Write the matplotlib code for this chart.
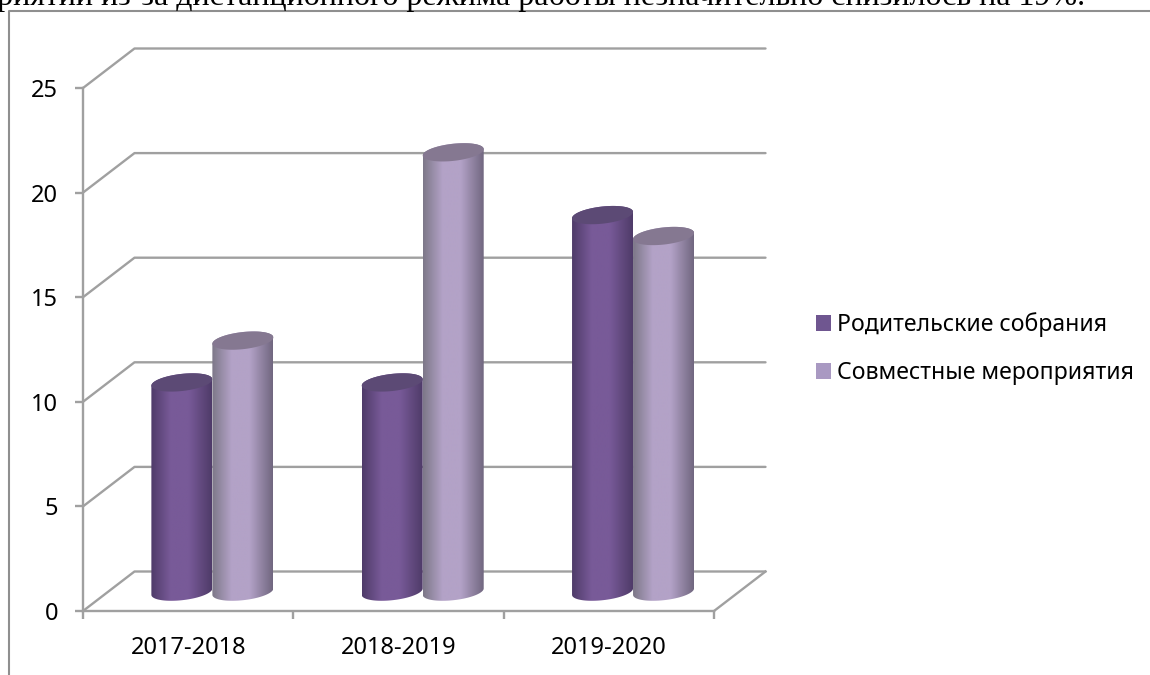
import numpy as np
import matplotlib
matplotlib.use("Agg")
import matplotlib.pyplot as plt
from matplotlib.colors import LinearSegmentedColormap
from matplotlib.lines import Line2D
from matplotlib.patches import Patch, Polygon

categories = ["2017-2018", "2018-2019", "2019-2020"]
series_names = ["Родительские собрания", "Совместные мероприятия"]
parent_meetings = [10, 10, 18]
joint_events = [12, 21, 17]
y_ticks = [0, 5, 10, 15, 20, 25]
caption = "приятий из-за дистанционного режима работы незначительно снизилось на 19%."

W, H = 1150, 675
FONT = "Noto Sans"
GRID = "#a0a0a0"
FS = 17.0

fig = plt.figure(figsize=(W / 100, H / 100), dpi=100, facecolor="white")
L, R, T, B = 83, 714, 88, 611
ax = fig.add_axes([L / W, 1 - B / H, (R - L) / W, (B - T) / H])
ax.set_xlim(0, len(categories))
ax.set_ylim(0, 25)
ax.patch.set_visible(False)

# depth of the pseudo-3D box in data units
DX = 51.5 / ((R - L) / len(categories))
DY = 39.5 / ((B - T) / 25)
LW = 1.7

# walls
for v in y_ticks:
    ax.plot([0, DX, len(categories) + DX], [v, v + DY, v + DY], color=GRID, lw=LW,
            clip_on=False, zorder=1, solid_capstyle="round")
ax.plot([len(categories), len(categories) + DX], [0, DY], color=GRID, lw=LW, clip_on=False, zorder=1)

for s in ("top", "right"):
    ax.spines[s].set_visible(False)
for s in ("left", "bottom"):
    ax.spines[s].set_color(GRID)
    ax.spines[s].set_linewidth(LW)
    ax.spines[s].set_zorder(1)

ax.set_yticks(y_ticks)
ax.set_xticks(range(len(categories) + 1))
ax.set_xticklabels([])
ax.set_xticks([i + 0.5 for i in range(len(categories))], minor=True)
ax.set_xticklabels(categories, minor=True, fontsize=FS, family=FONT, color="black")
ax.tick_params(axis="x", which="major", length=6, width=LW, color=GRID)
ax.tick_params(axis="x", which="minor", length=0, pad=18)
ax.tick_params(axis="y", length=6, width=LW, color=GRID, pad=12, labelsize=FS)
for t in ax.get_yticklabels():
    t.set_family(FONT)

BAR_W = 0.29
SEMI_H = 0.41
SHEAR = 1.05


def ellipse_pts(cx, cy, t):
    a = BAR_W / 2
    c, s = np.cos(t), np.sin(t)
    return np.column_stack([cx + a * c, cy + SEMI_H * s + SHEAR * a * c])


def cylinder(x_left, value, edge_l, mid, edge_r, top, z):
    cx = x_left + BAR_W / 2 + DX * 0.47
    base = DY * 0.49
    cmap = LinearSegmentedColormap.from_list(
        "c", [(0, edge_l), (0.32, mid), (0.62, mid), (1, edge_r)])
    im = ax.imshow(np.linspace(0, 1, 128).reshape(1, -1), cmap=cmap, aspect="auto",
                   extent=(cx - BAR_W / 2, cx + BAR_W / 2, base - 1, base + value + 1),
                   zorder=z, interpolation="bilinear")
    lower = ellipse_pts(cx, base, np.linspace(np.pi, 2 * np.pi, 50))
    upper = ellipse_pts(cx, base + value, np.linspace(0, np.pi, 50))
    clip = Polygon(np.vstack([lower, upper]), closed=True, transform=ax.transData,
                   fc="none", ec="none")
    ax.add_patch(clip)
    im.set_clip_path(clip)
    im.set_clip_on(True)
    ax.add_patch(Polygon(ellipse_pts(cx, base + value, np.linspace(0, 2 * np.pi, 100)),
                         closed=True, fc=top, ec="none", zorder=z + 0.1, clip_on=False))


for i in range(len(categories)):
    start = i + 0.5 - BAR_W
    cylinder(start, parent_meetings[i], "#4f3b69", "#785a98", "#4f3b69", "#5c4a75", 3 + i)
    cylinder(start + BAR_W, joint_events[i], "#7d7888", "#b3a2c7", "#716780", "#857891", 3.5 + i)

ax.set_xlim(0, len(categories))
ax.set_ylim(0, 25)

# legend
handles = [Patch(fc="#6f5690", ec="none"), Patch(fc="#a999c2", ec="none")]
leg = fig.legend(handles, series_names, loc="center left",
                 bbox_to_anchor=(816 / W, 1 - 348.5 / H), frameon=False,
                 borderpad=0, borderaxespad=0, handlelength=0.66, handleheight=0.66,
                 handletextpad=0.26, labelspacing=1.04,
                 prop={"family": FONT, "size": 16.6})

# surrounding frame of the embedded chart
FRAME = "#8f8f8f"
fig.add_artist(Line2D([8.5 / W, 8.5 / W, 1], [0, 1 - 11 / H, 1 - 11 / H],
                      color=FRAME, lw=1.5, transform=fig.transFigure))

# cut-off line of document text above the chart
fig.text(1085 / W, 1 - 5 / H, caption, family="Liberation Serif", fontsize=23,
         color="black", ha="right", va="baseline")

fig.savefig("out.png", dpi=100, facecolor="white")
